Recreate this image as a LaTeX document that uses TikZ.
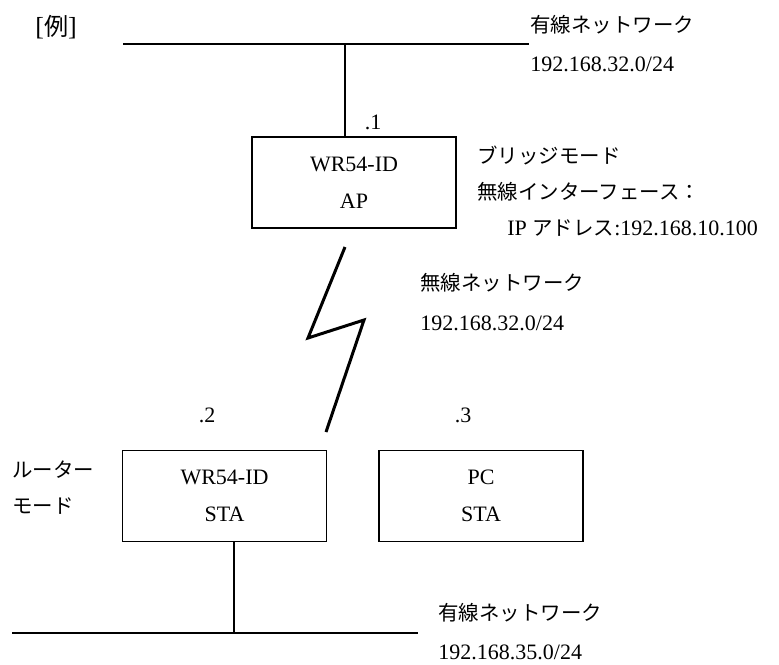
\documentclass[tikz,border=0pt]{standalone}
\usepackage{fontspec}
\setmainfont{Liberation Serif}
\newfontfamily\jp{Noto Sans CJK JP}[Scale=0.93]

\begin{document}
\begin{tikzpicture}
  [x=0.5pt,y=-0.5pt,
   every node/.style={font=\fontsize{11}{18.5}\selectfont},
   dev/.style={draw,line width=0.7pt,minimum width=102pt,minimum height=45.5pt,inner sep=0pt,align=center},
   lbl/.style={anchor=west,inner sep=0pt},
   wire/.style={line width=0.7pt},
   bolt/.style={line width=1.5pt,line join=miter}]

  \useasboundingbox (0,0) rectangle (779,664);

  \node [lbl,font=\fontsize{13}{15}\selectfont] (ex) at (35,27) {[{\jp 例}]};

  % devices
  \node [dev] (ap) at (354,182.5) {WR54-ID\\AP};
  \node [dev] (sta) at (224.5,496) {WR54-ID\\STA};
  \node [dev] (pc) at (481,496) {PC\\STA};

  \node (h1) at (373,122) {.1};
  \node (h2) at (207,415) {.2};
  \node (h3) at (463,415) {.3};

  % upper wired network
  \coordinate (busL1) at (123,44);
  \coordinate (busR1) at (529,44);
  \coordinate (tap1) at (345,44);
  \draw [wire] (busL1) -- (busR1);
  \draw [wire] (tap1) -- (tap1 |- ap.north);
  \node [lbl] (net1) at (530,25) {\jp 有線ネットワーク};
  \node [lbl] (ip1) at (530,64) {192.168.32.0/24};

  \node [lbl] (apmode) at (477,155) {\jp ブリッジモード};
  \node [lbl] (apif) at (477,192) {\jp 無線インターフェース：};
  \node [lbl] (apip) at (507,228) {IP {\jp アドレス}:192.168.10.100};

  % wireless link
  \coordinate (w1) at (345,247);
  \coordinate (w2) at (308,338);
  \coordinate (w3) at (364,320);
  \coordinate (w4) at (326,432);
  \draw [bolt] (w1) -- (w2) -- (w3) -- (w4);
  \node [lbl] (net2) at (420,283) {\jp 無線ネットワーク};
  \node [lbl] (ip2) at (420,323) {192.168.32.0/24};

  \node [lbl] (stamode1) at (12,470) {\jp ルーター};
  \node [lbl] (stamode2) at (12,506) {\jp モード};

  % lower wired network
  \coordinate (busL2) at (12,633);
  \coordinate (busR2) at (418,633);
  \coordinate (tap2) at (234,633);
  \draw [wire] (busL2) -- (busR2);
  \draw [wire] (tap2 |- sta.south) -- (tap2);
  \node [lbl] (net3) at (438,613) {\jp 有線ネットワーク};
  \node [lbl] (ip3) at (438,652) {192.168.35.0/24};
\end{tikzpicture}
\end{document}
